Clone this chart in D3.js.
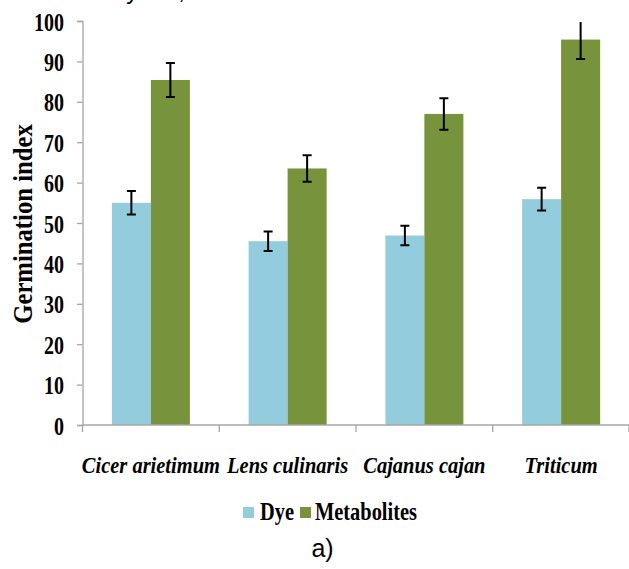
<!DOCTYPE html>
<html>
<head>
<meta charset="utf-8">
<script src="https://cdn.jsdelivr.net/npm/d3@7"></script>
<style>
  html, body { margin: 0; padding: 0; background: #fff; }
  svg { display: block; }
</style>
</head>
<body>
<script>
// ---- data ----
const categories = ["Cicer arietimum", "Lens culinaris", "Cajanus cajan", "Triticum"];
const seriesNames = ["Dye", "Metabolites"];
const dyeValues = [55.0, 45.5, 46.9, 55.9];
const dyeErrors = [2.9, 2.4, 2.4, 2.8];
const metaboliteValues = [85.4, 63.5, 77.0, 95.4];
const metaboliteErrors = [4.2, 3.3, 3.9, 4.8];
const yTicks = [0, 10, 20, 30, 40, 50, 60, 70, 80, 90, 100];
const colors = ["#93CDDD", "#77933C"];

const W = 629, H = 569;
const svg = d3.select("body").append("svg").attr("width", W).attr("height", H);

const x0 = 82.5, x1 = 629.5, yTop = 21, yBot = 425;
const x = d3.scaleBand().domain(categories).range([x0, x1]).padding(0);
const y = d3.scaleLinear().domain([0, 100]).range([yBot, yTop]);
const barW = 39;

const serif = "Liberation Serif, Tinos, Times New Roman, serif";
const sans = "Liberation Sans, Arimo, Arial, sans-serif";
const axisColor = "#a6a6a6";

// clip for plot area
svg.append("defs").append("clipPath").attr("id", "plot")
  .append("rect").attr("x", x0).attr("y", yTop + 1).attr("width", x1 - x0).attr("height", yBot - yTop);

// cut-off title at top (only descenders visible in the reference)
svg.append("text").attr("x", 185).attr("y", -1).attr("text-anchor", "end")
  .style("font-family", sans).style("font-size", "24px")
  .text("assessed by the,");

// bars
const rows = categories.map((c, i) => ({
  cat: c,
  vals: [
    {s: 0, v: dyeValues[i], e: dyeErrors[i]},
    {s: 1, v: metaboliteValues[i], e: metaboliteErrors[i]}
  ]
}));
const gBars = svg.append("g");
rows.forEach(r => {
  const cx = x(r.cat) + x.bandwidth() / 2;
  r.vals.forEach(d => {
    const bx = cx - barW + d.s * barW;
    gBars.append("rect").attr("x", bx).attr("y", y(d.v))
      .attr("width", barW).attr("height", y(0) - y(d.v))
      .attr("fill", colors[d.s]);
  });
});

// axes
const yAxis = svg.append("g").attr("transform", `translate(${x0},0)`)
  .call(d3.axisLeft(y).tickValues(yTicks).tickSize(5.5).tickFormat(""));
yAxis.selectAll("line, path").attr("stroke", axisColor).attr("stroke-width", 1.3);
const xAxisG = svg.append("g").attr("transform", `translate(0,${yBot})`);
xAxisG.append("line").attr("x1", x0).attr("x2", x1).attr("y1", 0).attr("y2", 0)
  .attr("stroke", axisColor).attr("stroke-width", 1.3);
const edges = categories.map(c => x(c)).concat([x1 - 0.5]);
xAxisG.selectAll("line.tk").data(edges).enter().append("line").attr("class", "tk")
  .attr("x1", d => d).attr("x2", d => d).attr("y1", 0).attr("y2", 7)
  .attr("stroke", axisColor).attr("stroke-width", 1.3);

// error bars, centred on each bar
const gErr = svg.append("g").attr("clip-path", "url(#plot)");
rows.forEach(r => {
  const cx = x(r.cat) + x.bandwidth() / 2;
  r.vals.forEach(d => {
    const ex = cx + (d.s === 0 ? -barW / 2 : barW / 2);
    const yt = y(d.v + d.e), yb = y(d.v - d.e);
    gErr.append("line").attr("x1", ex).attr("x2", ex).attr("y1", yt).attr("y2", yb)
      .attr("stroke", "#000").attr("stroke-width", 2);
    [yt, yb].forEach(yy => gErr.append("line").attr("x1", ex - 4.5).attr("x2", ex + 4.5)
      .attr("y1", yy).attr("y2", yy).attr("stroke", "#000").attr("stroke-width", 2));
  });
});

// y tick labels (condensed bold serif)
svg.append("g").selectAll("text").data(yTicks).enter().append("text")
  .attr("transform", d => `translate(64,${y(d) + 9.5}) scale(0.8,1)`)
  .attr("text-anchor", "end")
  .style("font-family", serif).style("font-weight", "bold").style("font-size", "25px")
  .attr("fill", "#000").text(d => d);

// y axis title
svg.append("text").attr("transform", "translate(32,224) rotate(-90) scale(0.915,1)")
  .attr("text-anchor", "middle")
  .style("font-family", serif).style("font-weight", "bold").style("font-size", "27px")
  .text("Germination index");

// category labels
svg.append("g").selectAll("text").data(categories).enter().append("text")
  .attr("transform", d => `translate(${x(d) + x.bandwidth() / 2},473) scale(0.89,1)`)
  .attr("text-anchor", "middle")
  .style("font-family", serif).style("font-weight", "bold").style("font-style", "italic")
  .style("font-size", "23px").text(d => d);

// legend
const legend = svg.append("g");
const legendItems = [{sx: 243, tx: 260}, {sx: 300, tx: 315}];
seriesNames.forEach((n, i) => {
  legend.append("rect").attr("x", legendItems[i].sx).attr("y", 507).attr("width", 11).attr("height", 11)
    .attr("fill", colors[i]);
  legend.append("text").attr("transform", `translate(${legendItems[i].tx},520) scale(0.785,1)`)
    .style("font-family", serif).style("font-weight", "bold").style("font-size", "26px").text(n);
});

// panel label
svg.append("text").attr("x", 322.5).attr("y", 557).attr("text-anchor", "middle")
  .style("font-family", sans).style("font-size", "25px").text("a)");
</script>
</body>
</html>
